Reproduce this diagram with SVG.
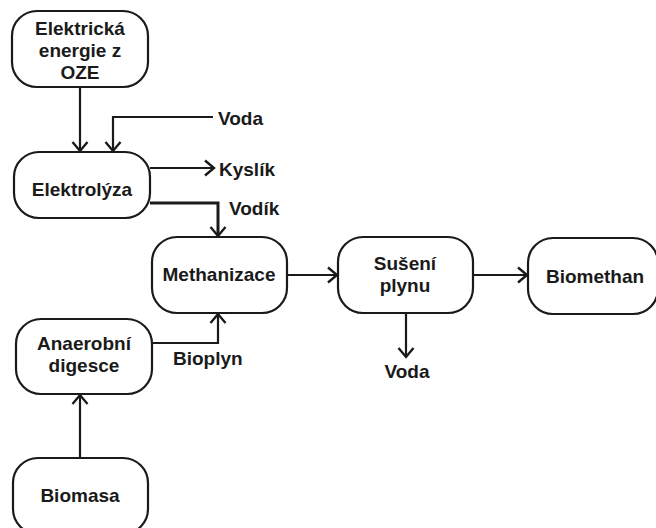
<svg xmlns="http://www.w3.org/2000/svg" width="656" height="528" viewBox="0 0 656 528">
<style>
.box{fill:#fff;stroke:#1a1a1a;stroke-width:2.2}
.t{font-family:"Liberation Sans",Arial,sans-serif;font-weight:bold;font-size:19px;fill:#1a1a1a;text-anchor:middle}
.l{font-family:"Liberation Sans",Arial,sans-serif;font-weight:bold;font-size:19px;fill:#1a1a1a}
.c{fill:none;stroke:#1a1a1a;stroke-width:2.2}
</style>
<defs>
<marker id="a" markerUnits="userSpaceOnUse" viewBox="-10 -10 20 20" markerWidth="20" markerHeight="20" refX="0" refY="0" orient="auto">
<path d="M-9,-7.5 L0,0 L-9,7.5" fill="none" stroke="#1a1a1a" stroke-width="2.4"/>
</marker>
</defs>
<rect width="656" height="528" fill="#fff"/>
<g id="connectors">
<path class="c" d="M80,87 V151" marker-end="url(#a)"/>
<path class="c" d="M213,117 H113 V151" marker-end="url(#a)"/>
<path class="c" d="M150,168 H214" marker-end="url(#a)"/>
<path class="c" style="stroke-width:3" d="M150,203 H218 V236" marker-end="url(#a)"/>
<path class="c" d="M287,275 H337" marker-end="url(#a)"/>
<path class="c" d="M473,275 H527" marker-end="url(#a)"/>
<path class="c" d="M406,313 V357" marker-end="url(#a)"/>
<path class="c" d="M152,343 H218 V314" marker-end="url(#a)"/>
<path class="c" d="M80,458 V395" marker-end="url(#a)"/>
</g>
<g id="oze">
<rect class="box" x="12" y="11" width="136" height="76" rx="25"/>
<text class="t" x="80" y="35">Elektrická</text>
<text class="t" x="80" y="57">energie z</text>
<text class="t" x="80" y="79">OZE</text>
</g>
<g id="elektrolyza">
<rect class="box" x="14" y="152" width="136" height="66" rx="25"/>
<text class="t" x="82" y="196">Elektrolýza</text>
</g>
<g id="methanizace">
<rect class="box" x="152" y="237" width="135" height="76" rx="25"/>
<text class="t" x="219" y="281">Methanizace</text>
</g>
<g id="suseni">
<rect class="box" x="338" y="237" width="135" height="76" rx="25"/>
<text class="t" x="405" y="270">Sušení</text>
<text class="t" x="405" y="292">plynu</text>
</g>
<g id="biomethan">
<rect class="box" x="528" y="238" width="130" height="76" rx="25"/>
<text class="t" x="595" y="283">Biomethan</text>
</g>
<g id="anaerobni">
<rect class="box" x="16" y="319" width="136" height="75" rx="25"/>
<text class="t" x="84" y="350">Anaerobní</text>
<text class="t" x="84" y="372">digesce</text>
</g>
<g id="biomasa">
<rect class="box" x="13" y="458" width="135" height="76" rx="25"/>
<text class="t" x="80" y="502">Biomasa</text>
</g>
<g id="labels">
<text class="l" x="218" y="125">Voda</text>
<text class="l" x="219" y="176">Kyslík</text>
<text class="l" x="229" y="215">Vodík</text>
<text class="l" x="173" y="365">Bioplyn</text>
<text class="t" x="407" y="378">Voda</text>
</g>
</svg>
